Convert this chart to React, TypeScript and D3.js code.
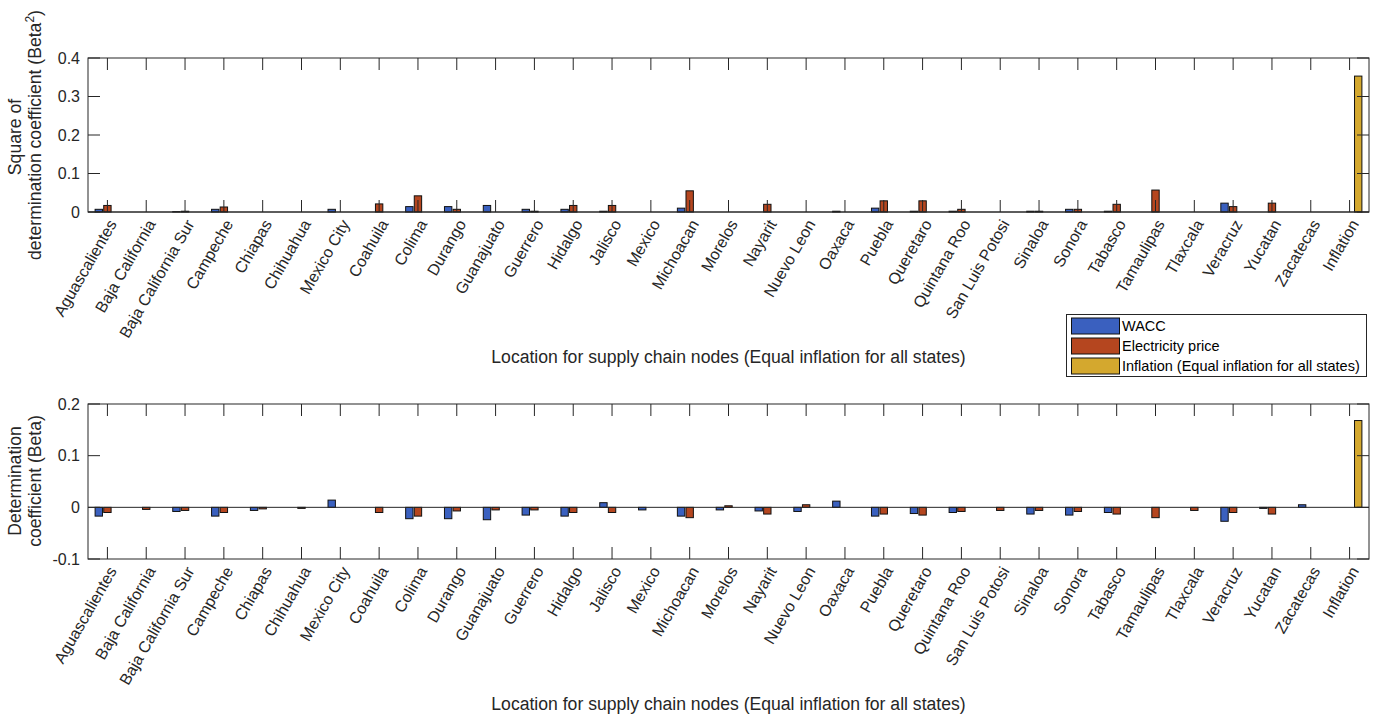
import React, { useEffect, useRef } from 'react';
import * as d3 from 'd3';

const states = [
  'Aguascalientes', 'Baja California', 'Baja California Sur', 'Campeche', 'Chiapas',
  'Chihuahua', 'Mexico City', 'Coahuila', 'Colima', 'Durango', 'Guanajuato', 'Guerrero',
  'Hidalgo', 'Jalisco', 'Mexico', 'Michoacan', 'Morelos', 'Nayarit', 'Nuevo Leon', 'Oaxaca',
  'Puebla', 'Queretaro', 'Quintana Roo', 'San Luis Potosi', 'Sinaloa', 'Sonora', 'Tabasco',
  'Tamaulipas', 'Tlaxcala', 'Veracruz', 'Yucatan', 'Zacatecas', 'Inflation'
];

// Square of determination coefficient (Beta^2)
const waccSq = [0.007, 0, 0.001, 0.007, 0, 0, 0.007, 0, 0.014, 0.014, 0.017, 0.007, 0.007, 0.002, 0, 0.010, 0, 0, 0, 0.002, 0.010, 0.002, 0.002, 0, 0.002, 0.007, 0.002, 0, 0, 0.023, 0, 0, 0];
const elecSq = [0.017, 0, 0.002, 0.013, 0, 0, 0, 0.021, 0.042, 0.007, 0, 0.002, 0.017, 0.017, 0, 0.055, 0, 0.020, 0, 0, 0.029, 0.029, 0.007, 0, 0.002, 0.007, 0.020, 0.057, 0, 0.014, 0.023, 0, 0];
const inflSq = [0, 0, 0, 0, 0, 0, 0, 0, 0, 0, 0, 0, 0, 0, 0, 0, 0, 0, 0, 0, 0, 0, 0, 0, 0, 0, 0, 0, 0, 0, 0, 0, 0.353];

// Determination coefficient (Beta)
const waccBeta = [-0.017, 0, -0.008, -0.017, -0.006, 0, 0.014, 0, -0.022, -0.022, -0.024, -0.015, -0.017, 0.009, -0.005, -0.017, -0.005, -0.007, -0.008, 0.012, -0.017, -0.012, -0.010, 0, -0.013, -0.015, -0.010, 0, 0, -0.027, -0.002, 0.005, 0];
const elecBeta = [-0.010, -0.004, -0.006, -0.010, -0.003, -0.002, 0, -0.010, -0.017, -0.007, -0.005, -0.005, -0.010, -0.010, 0, -0.020, 0.003, -0.013, 0.005, 0, -0.013, -0.015, -0.008, -0.006, -0.006, -0.008, -0.013, -0.020, -0.006, -0.010, -0.013, 0, 0];
const inflBeta = [0, 0, 0, 0, 0, 0, 0, 0, 0, 0, 0, 0, 0, 0, 0, 0, 0, 0, 0, 0, 0, 0, 0, 0, 0, 0, 0, 0, 0, 0, 0, 0, 0.168];

const seriesNames = ['WACC', 'Electricity price', 'Inflation (Equal inflation for all states)'];
const seriesColors = ['#3a60bf', '#b5461f', '#d4a82e'];

const topTicks = [0, 0.1, 0.2, 0.3, 0.4];
const bottomTicks = [-0.1, 0, 0.1, 0.2];

const xLabel = 'Location for supply chain nodes (Equal inflation for all states)';

const W = 1379;
const H = 719;
const FONT = '"Liberation Sans", Arial, Helvetica, sans-serif';
const AX = '#262626';

export default function App() {
  const svgRef = useRef<SVGSVGElement>(null);

  useEffect(() => {
    if (!svgRef.current) return;
    const svg = d3.select(svgRef.current);
    svg.selectAll('*').remove();

    const left = 88;
    const right = 1369;
    const tickLen = 12;

    const x = d3.scaleBand<string>().domain(states).range([left, right]).padding(0);
    const step = x.step();
    const barW = step * 0.19;
    const offsets = [-0.222 * step, 0, 0.222 * step];

    const drawPanel = (
      top: number,
      bottom: number,
      domain: [number, number],
      ticks: number[],
      series: number[][]
    ) => {
      const y = d3.scaleLinear().domain(domain).range([bottom, top]);
      const g = svg.append('g');

      // bars
      series.forEach((vals, si) => {
        g.selectAll(null)
          .data(vals.map((v, i) => ({ v, name: states[i] })).filter(d => d.v !== 0))
          .enter()
          .append('rect')
          .attr('x', d => (x(d.name) as number) + step / 2 + offsets[si] - barW / 2)
          .attr('width', barW)
          .attr('y', d => y(Math.max(0, d.v)))
          .attr('height', d => Math.abs(y(d.v) - y(0)))
          .attr('fill', seriesColors[si])
          .attr('stroke', '#111')
          .attr('stroke-width', 1);
      });

      // baseline at zero
      g.append('line')
        .attr('x1', left).attr('x2', right)
        .attr('y1', y(0)).attr('y2', y(0))
        .attr('stroke', AX).attr('stroke-width', 1);

      // axes box
      g.append('rect')
        .attr('x', left).attr('y', top)
        .attr('width', right - left).attr('height', bottom - top)
        .attr('fill', 'none').attr('stroke', AX).attr('stroke-width', 1);

      // y ticks, inside on both sides
      ticks.forEach(t => {
        const yy = y(t);
        g.append('line').attr('x1', left).attr('x2', left + tickLen)
          .attr('y1', yy).attr('y2', yy).attr('stroke', AX);
        g.append('line').attr('x1', right - tickLen).attr('x2', right)
          .attr('y1', yy).attr('y2', yy).attr('stroke', AX);
        g.append('text')
          .attr('x', left - 8).attr('y', yy).attr('dy', '0.35em')
          .attr('text-anchor', 'end')
          .style('font-family', FONT).style('font-size', '16px')
          .attr('fill', AX)
          .text(t === 0 ? '0' : d3.format('.1f')(t).replace('−', '-'));
      });

      // x ticks, inside top and bottom, with rotated labels
      states.forEach(s => {
        const xx = (x(s) as number) + step / 2;
        g.append('line').attr('x1', xx).attr('x2', xx)
          .attr('y1', bottom).attr('y2', bottom - tickLen).attr('stroke', AX);
        g.append('line').attr('x1', xx).attr('x2', xx)
          .attr('y1', top).attr('y2', top + tickLen).attr('stroke', AX);
        g.append('text')
          .attr('transform', `translate(${xx + 5},${bottom + 9}) rotate(-60)`)
          .attr('text-anchor', 'end')
          .attr('dy', '0.35em')
          .style('font-family', FONT).style('font-size', '16px')
          .attr('fill', AX)
          .text(s);
      });
    };

    drawPanel(58, 212, [0, 0.4], topTicks, [waccSq, elecSq, inflSq]);
    drawPanel(404, 559, [-0.1, 0.2], bottomTicks, [waccBeta, elecBeta, inflBeta]);

    // x axis labels
    [357, 704].forEach(yy => {
      svg.append('text')
        .attr('x', (left + right) / 2).attr('y', yy).attr('dy', '0.35em')
        .attr('text-anchor', 'middle')
        .style('font-family', FONT).style('font-size', '17.6px')
        .attr('fill', AX)
        .text(xLabel);
    });

    // y axis labels
    const yl = (cx: number, cy: number) =>
      svg.append('text')
        .attr('transform', `translate(${cx},${cy}) rotate(-90)`)
        .attr('text-anchor', 'middle')
        .style('font-family', FONT).style('font-size', '17.6px')
        .attr('fill', AX);

    yl(21, 137).text('Square of');
    const t2 = yl(41, 135);
    t2.append('tspan').text('determination coefficient (Beta');
    t2.append('tspan').attr('baseline-shift', 'super').style('font-size', '12px').text('2');
    t2.append('tspan').text(')');

    yl(21, 481).text('Determination');
    yl(41, 481).text('coefficient (Beta)');

    // legend
    const lg = svg.append('g');
    lg.append('rect')
      .attr('x', 1066.5).attr('y', 314.5).attr('width', 300).attr('height', 62)
      .attr('fill', '#fff').attr('stroke', AX).attr('stroke-width', 1);
    seriesNames.forEach((name, i) => {
      const ry = 318 + i * 20;
      lg.append('rect')
        .attr('x', 1071.5).attr('y', ry).attr('width', 48).attr('height', 16)
        .attr('fill', seriesColors[i]).attr('stroke', '#111').attr('stroke-width', 1);
      lg.append('text')
        .attr('x', 1122).attr('y', ry + 8).attr('dy', '0.35em')
        .style('font-family', FONT).style('font-size', '14.5px')
        .attr('fill', '#000')
        .text(name);
    });
  }, []);

  return (
    <svg
      ref={svgRef}
      width={W}
      height={H}
      style={{ position: 'absolute', left: 0, top: 0, background: '#fff' }}
    />
  );
}
